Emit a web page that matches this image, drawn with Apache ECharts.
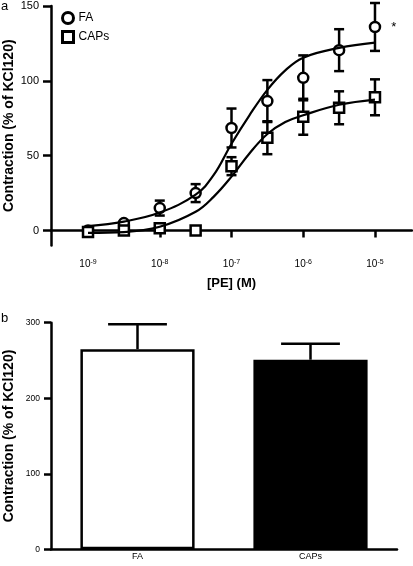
<!DOCTYPE html>
<html>
<head>
<meta charset="utf-8">
<script src="https://cdn.jsdelivr.net/npm/echarts@6/dist/echarts.min.js"></script>
<style>
html,body{margin:0;padding:0;background:#fff;}
#chart{width:413px;height:566px;}
</style>
</head>
<body>
<div id="chart"></div>
<script>
// ---- Panel a data (x = log10 [PE] in M) ----
const doseLog = [-9, -8.5, -8, -7.5, -7, -6.5, -6, -5.5, -5];
const faMean  = [0, 5, 15, 25, 68.5, 86.5, 102, 120.5, 136];
const faSem   = [0, 1, 5, 6, 13, 14, 15, 14, 16];
const capsMean = [-1, 0, 1.5, 0, 43, 62, 76, 82, 89];
const capsSem  = [0, 0, 0, 0, 6, 11, 12, 11, 12];
// fitted curves
const fitLog  = [-9, -8.5, -8, -7.5, -7.25, -7, -6.75, -6.5, -6.25, -6, -5.5, -5];
const faFit   = [3, 6, 12, 24, 37, 58, 77, 94, 107, 115.5, 122, 125.5];
const capsFit = [-1.5, -1, 2.5, 12.5, 22.5, 36, 51.5, 64.5, 72.5, 77, 84, 87.5];
const xTicks = [-9, -8, -7, -6, -5];
const yTicksA = [0, 50, 100, 150];
// ---- Panel b data ----
const groups = ['FA', 'CAPs'];
const totalMean = [265, 251];
const totalSem  = [33, 21];

const chart = echarts.init(document.getElementById('chart'), null, {renderer: 'canvas'});
const FONT = 'Liberation Sans, Arial, sans-serif';

function errData(mean, sem) {
  return mean.map((m, i) => [doseLog[i], m - sem[i], m + sem[i]]);
}
function errRender(params, api) {
  const x = api.value(0), lo = api.value(1), hi = api.value(2);
  if (hi - lo <= 0) return null;
  const a = api.coord([x, hi]), b = api.coord([x, lo]);
  const hw = 5;
  const st = {stroke: '#000', lineWidth: 2.5};
  return {type: 'group', children: [
    {type: 'line', shape: {x1: a[0], y1: a[1], x2: b[0], y2: b[1]}, style: st},
    {type: 'line', shape: {x1: a[0] - hw, y1: a[1], x2: a[0] + hw, y2: a[1]}, style: st},
    {type: 'line', shape: {x1: b[0] - hw, y1: b[1], x2: b[0] + hw, y2: b[1]}, style: st}
  ]};
}
function barErrRender(params, api) {
  const c = api.value(0), m = api.value(1), e = api.value(2);
  const a = api.coord([c, m + e]), b = api.coord([c, m]);
  const hw = api.size([1, 0])[0] * 0.17;
  const st = {stroke: '#000', lineWidth: 2.5};
  return {type: 'group', children: [
    {type: 'line', shape: {x1: a[0], y1: a[1], x2: b[0], y2: b[1]}, style: st},
    {type: 'line', shape: {x1: a[0] - hw, y1: a[1], x2: a[0] + hw, y2: a[1]}, style: st}
  ]};
}

const axisLineStyle = {color: '#000', width: 2.5};

const option = {
  animation: false,
  backgroundColor: '#fff',
  textStyle: {fontFamily: FONT, color: '#000'},
  graphic: [
    {type: 'text', left: 1, top: 0, style: {text: 'a', fontSize: 13, fontFamily: FONT, fill: '#000'}},
    {type: 'text', left: 1, top: 312, style: {text: 'b', fontSize: 13, fontFamily: FONT, fill: '#000'}}
  ],
  legend: {
    orient: 'vertical', left: 56, top: 6, itemWidth: 11, itemHeight: 11, itemGap: 5,
    textStyle: {fontSize: 12, fontFamily: FONT, color: '#000'},
    data: [
      {name: 'FA', icon: 'circle', itemStyle: {color: '#fff', borderColor: '#000', borderWidth: 3}},
      {name: 'CAPs', icon: 'rect', itemStyle: {color: '#fff', borderColor: '#000', borderWidth: 3}}
    ]
  },
  grid: [
    {left: 51, top: 6, width: 361, height: 239.5, containLabel: false, outerBoundsMode: 'none'},
    {left: 51, top: 322.7, width: 346, height: 226.6, containLabel: false, outerBoundsMode: 'none'}
  ],
  xAxis: [
    {
      gridIndex: 0, type: 'value', min: -9.516, max: -4.484,
      name: '[PE] (M)', nameLocation: 'middle', nameGap: 31, nameMoveOverlap: false,
      nameTextStyle: {fontSize: 13, fontWeight: 'bold', fontFamily: FONT, color: '#000'},
      axisLine: {lineStyle: axisLineStyle},
      splitLine: {show: false},
      axisTick: {show: true, length: 7, customValues: xTicks, lineStyle: {color: '#000', width: 2.5}},
      axisLabel: {
        customValues: xTicks, margin: 13, color: '#000',
        formatter: v => '{b|10}{s|' + v + '}',
        rich: {
          b: {fontSize: 10, fontFamily: FONT, color: '#000'},
          s: {fontSize: 7, fontFamily: FONT, color: '#000', verticalAlign: 'top', padding: [0, 0, 5, 0]}
        }
      }
    },
    {
      gridIndex: 1, type: 'category', data: groups,
      axisLine: {lineStyle: axisLineStyle},
      axisTick: {show: false},
      axisLabel: {fontSize: 9, margin: 3, color: '#000', fontFamily: FONT}
    }
  ],
  yAxis: [
    {
      gridIndex: 0, type: 'value', min: -10, max: 150,
      name: 'Contraction (% of KCl120)', nameLocation: 'middle', nameGap: 34.5, nameMoveOverlap: false,
      nameTextStyle: {fontSize: 14, fontWeight: 'bold', fontFamily: FONT, color: '#000'},
      axisLine: {show: true, lineStyle: axisLineStyle},
      splitLine: {show: false},
      axisTick: {show: true, length: 8, customValues: yTicksA, lineStyle: {color: '#000', width: 2.5}},
      axisLabel: {customValues: yTicksA, fontSize: 11, margin: 12, color: '#000', fontFamily: FONT}
    },
    {
      gridIndex: 1, type: 'value', min: 0, max: 300, interval: 100,
      name: 'Contraction (% of KCl120)', nameLocation: 'middle', nameGap: 34.5, nameMoveOverlap: false,
      nameTextStyle: {fontSize: 14, fontWeight: 'bold', fontFamily: FONT, color: '#000'},
      axisLine: {show: true, lineStyle: axisLineStyle},
      splitLine: {show: false},
      axisTick: {show: true, length: 7, lineStyle: {color: '#000', width: 2.5}},
      axisLabel: {fontSize: 8.5, margin: 11, color: '#000', fontFamily: FONT}
    }
  ],
  series: [
    {type: 'custom', xAxisIndex: 0, yAxisIndex: 0, z: 1, renderItem: errRender, data: errData(faMean, faSem), silent: true},
    {type: 'custom', xAxisIndex: 0, yAxisIndex: 0, z: 1, renderItem: errRender, data: errData(capsMean, capsSem), silent: true},
    {
      name: 'FA', type: 'scatter', xAxisIndex: 0, yAxisIndex: 0, z: 3,
      symbol: 'circle', symbolSize: 10,
      itemStyle: {color: '#fff', borderColor: '#000', borderWidth: 2.5, opacity: 1},
      data: doseLog.map((x, i) => {
        const d = {value: [x, faMean[i]]};
        if (i === doseLog.length - 1) d.label = {show: true, formatter: '*', position: 'right', distance: 10, fontSize: 13, color: '#000'};
        return d;
      })
    },
    {
      name: 'CAPs', type: 'scatter', xAxisIndex: 0, yAxisIndex: 0, z: 3,
      symbol: 'rect', symbolSize: 10,
      itemStyle: {color: '#fff', borderColor: '#000', borderWidth: 2.5, opacity: 1},
      data: doseLog.map((x, i) => [x, capsMean[i]])
    },
    {
      type: 'line', xAxisIndex: 0, yAxisIndex: 0, z: 4, smooth: 0.4, showSymbol: false, silent: true,
      lineStyle: {color: '#000', width: 2.2},
      data: fitLog.map((x, i) => [x, faFit[i]])
    },
    {
      type: 'line', xAxisIndex: 0, yAxisIndex: 0, z: 4, smooth: 0.4, showSymbol: false, silent: true,
      lineStyle: {color: '#000', width: 2.2},
      data: fitLog.map((x, i) => [x, capsFit[i]])
    },
    {
      type: 'bar', xAxisIndex: 1, yAxisIndex: 1, barWidth: '66%', z: 2,
      data: [
        {value: totalMean[0], itemStyle: {color: '#fff', borderColor: '#000', borderWidth: 2.5}},
        {value: totalMean[1], itemStyle: {color: '#000', borderColor: '#000', borderWidth: 2.5}}
      ]
    },
    {
      type: 'custom', xAxisIndex: 1, yAxisIndex: 1, z: 3, renderItem: barErrRender, silent: true,
      data: totalMean.map((m, i) => [i, m, totalSem[i]])
    }
  ]
};
chart.setOption(option);
</script>
</body>
</html>
